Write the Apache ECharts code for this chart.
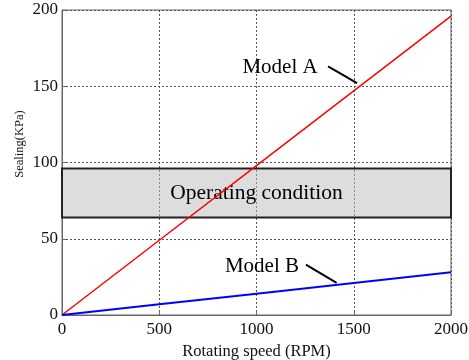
<!DOCTYPE html>
<html>
<head>
<meta charset="utf-8">
<script src="https://cdn.jsdelivr.net/npm/echarts@6/dist/echarts.min.js"></script>
<style>
  html, body { margin: 0; padding: 0; background: #fff; }
  #chart { width: 469px; height: 360px; }
</style>
</head>
<body>
<div id="chart"></div>
<script>
// speeds in RPM
const speeds = [0, 500, 1000, 1500, 2000];
// sealing pressure (kPa)
const modelA = [0, 49, 98, 147, 196];
const modelB = [0, 7, 14, 21, 28];
// operating band (kPa)
const bandLow = 64;
const bandHigh = 96;

const serif = 'Liberation Serif';
const chart = echarts.init(document.getElementById('chart'));

const pairs = (ys) => speeds.map((x, i) => [x, ys[i]]);

const option = {
  animation: false,
  grid: {
    left: 62, right: 18, top: 10, bottom: 45,
    outerBoundsMode: 'none',
    show: true, borderColor: '#666', borderWidth: 1
  },
  // y-axis title sits above the plot centre in the original
  graphic: [{
    type: 'text', x: 20, y: 144, rotation: Math.PI / 2,
    style: {
      text: 'Sealing(KPa)', fontFamily: serif, fontSize: 12.5, fill: '#111',
      align: 'center', verticalAlign: 'middle'
    }
  }],
  xAxis: {
    type: 'value', min: 0, max: 2000, interval: 500,
    name: 'Rotating speed (RPM)', nameLocation: 'middle', nameGap: 27,
    nameTextStyle: { fontFamily: serif, fontSize: 16.5, color: '#111' },
    axisLine: { lineStyle: { color: '#666' } },
    axisTick: { inside: true, length: 4, lineStyle: { color: '#666' } },
    axisLabel: { fontFamily: serif, fontSize: 17, color: '#111', margin: 6, formatter: (v) => String(v) },
    splitLine: { lineStyle: { type: [2, 2], color: '#555' } }
  },
  yAxis: {
    type: 'value', min: 0, max: 200, interval: 50,
    axisLine: { show: true, lineStyle: { color: '#666' } },
    axisTick: { show: true, inside: true, length: 4, lineStyle: { color: '#666' } },
    axisLabel: { fontFamily: serif, fontSize: 17, color: '#111', margin: 4 },
    splitLine: { lineStyle: { type: [2, 2], color: '#555' } }
  },
  series: [
    {
      name: 'Model A', type: 'line', data: pairs(modelA),
      showSymbol: false, z: 2,
      lineStyle: { color: '#ff0000', width: 1.5 },
      markLine: {
        silent: true, symbol: 'none',
        lineStyle: { color: '#000', width: 2, type: 'solid' },
        label: { show: false },
        data: [[{ coord: [1368, 163] }, { coord: [1517, 152] }]]
      },
      markPoint: {
        symbol: 'circle', symbolSize: 0,
        label: { show: true, formatter: 'Model A', fontFamily: serif, fontSize: 21, color: '#000', position: 'inside' },
        data: [{ coord: [1121, 162] }]
      }
    },
    {
      name: 'Model B', type: 'line', data: pairs(modelB),
      showSymbol: false, z: 3,
      lineStyle: { color: '#0000ff', width: 2 },
      markLine: {
        silent: true, symbol: 'none',
        lineStyle: { color: '#000', width: 2, type: 'solid' },
        label: { show: false },
        data: [[{ coord: [1254, 33] }, { coord: [1412, 21] }]]
      },
      markPoint: {
        symbol: 'circle', symbolSize: 0,
        label: { show: true, formatter: 'Model B', fontFamily: serif, fontSize: 21, color: '#000', position: 'inside' },
        data: [{ coord: [1028, 32] }]
      },
      markArea: {
        silent: true,
        itemStyle: { color: 'rgba(188,188,188,0.5)', borderColor: '#222', borderWidth: 2 },
        label: { show: true, position: 'inside', formatter: 'Operating condition', fontFamily: serif, fontSize: 21.5, color: '#000' },
        data: [[{ yAxis: bandLow }, { yAxis: bandHigh }]]
      }
    }
  ]
};

chart.setOption(option);
</script>
</body>
</html>
